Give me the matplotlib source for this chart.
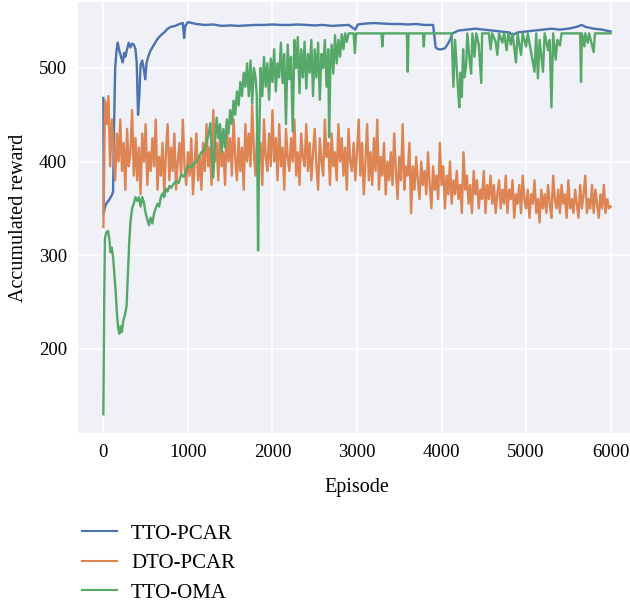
import matplotlib
matplotlib.use("Agg")
import matplotlib.pyplot as plt
import numpy as np

# Style: seaborn-like darkgrid, serif text
plt.rcParams["font.family"] = ["Liberation Serif", "DejaVu Serif"]
plt.rcParams["axes.facecolor"] = "#F0F0F7"
plt.rcParams["axes.edgecolor"] = "white"
plt.rcParams["grid.color"] = "white"

# TTO-PCAR (blue)
blue_ep = [0, 5, 20, 40, 60, 80, 100, 115, 125, 140, 155, 170, 185, 200, 215, 230,
           245, 260, 280, 300, 320, 340, 360, 380, 395, 410, 425, 440, 460, 480, 495,
           510, 530, 560, 600, 640, 680, 720, 760, 800, 850, 900, 940, 955, 970, 1000,
           1050, 1100, 1200, 1300, 1400, 1500, 1600, 1700, 1800, 1900, 2000, 2100,
           2200, 2300, 2400, 2500, 2600, 2700, 2800, 2900, 2980, 3010, 3100, 3200,
           3300, 3400, 3500, 3600, 3700, 3800, 3900, 3915, 3930, 3960, 4000, 4040,
           4070, 4100, 4130, 4200, 4300, 4400, 4500, 4600, 4700, 4800, 4840, 4900,
           5000, 5100, 5200, 5300, 5400, 5500, 5600, 5660, 5700, 5800, 5900, 6000]
blue_val = [468, 345, 352, 356, 358, 361, 364, 368, 430, 500, 518, 527, 520, 515, 510, 506,
            516, 512, 520, 527, 522, 526, 525, 520, 505, 450, 470, 503, 508, 498, 488,
            505, 512, 519, 525, 531, 535, 538, 542, 544, 545, 547, 548, 532, 545, 549,
            548, 547, 546, 546.5, 545, 545.5, 545, 545.5, 546, 546, 546.5, 546,
            546, 546.5, 546, 545.5, 546, 545, 545.5, 546, 541, 546.5, 547.5, 548,
            547.5, 547, 547, 546.5, 547, 546, 546, 535, 522, 520, 520, 521,
            525, 530, 537, 540, 541, 542, 541, 540, 539, 538, 535, 538,
            539, 540, 541, 542, 541, 542, 544, 546, 544, 542, 541, 539]

# DTO-PCAR (orange), one value every 20 episodes
orange_ep = np.arange(0, 6001, 20)
orange_val = [
    330, 465, 440, 470, 395, 445, 415, 380, 430, 400,
    445, 390, 420, 370, 435, 395, 410, 455, 385, 425,
    380, 415, 365, 430, 400, 440, 375, 410, 390, 425,
    395, 445, 370, 405, 385, 420, 365, 410, 440, 380,
    415, 390, 430, 370, 400, 420, 385, 445, 395, 375,
    410, 385, 425, 365, 400, 430, 380, 405, 370, 420,
    390, 440, 395, 415, 375, 455, 400, 420, 380, 435,
    395, 410, 375, 440, 400, 425, 385, 445, 405, 380,
    425, 390, 415, 370, 440, 400, 430, 395, 460, 410,
    385, 435, 400, 420, 375, 445, 405, 390, 430, 395,
    455, 400, 425, 380, 440, 395, 415, 370, 435, 405,
    390, 425, 400, 445, 385, 410, 375, 430, 405, 395,
    440, 390, 420, 380, 410, 435, 395, 370, 425, 400,
    385, 445, 405, 420, 375, 430, 395, 410, 380, 440,
    400, 425, 385, 415, 370, 435, 400, 390, 420, 380,
    410, 445, 385, 420, 365, 400, 440, 380, 410, 375,
    425, 390, 445, 370, 405, 385, 420, 365, 400, 380,
    410, 375, 430, 390, 360, 405, 380, 440, 370, 395,
    385, 420, 345, 395, 370, 405, 380, 360, 400, 375,
    390, 365, 410, 375, 350, 395, 370, 385, 360, 420,
    375, 395, 350, 385, 365, 400, 355, 380, 365, 390,
    360, 375, 345, 410, 370, 385, 355, 375, 345, 390,
    365, 380, 350, 370, 360, 390, 345, 375, 360, 385,
    355, 375, 345, 365, 380, 350, 370, 355, 385, 345,
    370, 360, 380, 340, 365, 355, 375, 345, 385, 360,
    350, 370, 340, 365, 355, 380, 345, 360, 335, 370,
    350, 365, 345, 375, 355, 340, 385, 360, 350, 370,
    345, 375, 355, 365, 340, 380, 350, 360, 345, 370,
    355, 340, 375, 350, 365, 385, 345, 360, 350, 375,
    345, 370, 355, 340, 365, 350, 375, 345, 360, 350,
    352]

# TTO-OMA (green)
green_ep = [0, 10, 18, 35, 55, 70, 85, 100, 115, 130, 145, 160, 175, 190, 205, 220,
            235, 255, 275, 290, 305, 320, 340, 360, 380, 400, 420, 440, 460, 480,
            500, 520, 540, 560, 580, 600, 620, 640, 660, 680, 700, 720, 740, 760,
            780, 800, 830, 860, 890, 920, 950, 980, 1010, 1040, 1070, 1100, 1130,
            1160, 1190, 1220, 1250, 1265, 1280, 1300, 1320, 1340, 1360, 1380, 1400,
            1420, 1440, 1460, 1480, 1500, 1520, 1540, 1560, 1580, 1600, 1620, 1640,
            1660, 1680, 1700, 1720, 1740, 1760, 1780, 1800, 1815, 1830, 1845, 1860,
            1880, 1900, 1920, 1940, 1960, 1980, 2000, 2020, 2040, 2060, 2080, 2100,
            2120, 2140, 2160, 2180, 2200, 2220, 2240, 2260, 2280, 2300, 2320, 2340,
            2360, 2380, 2400, 2420, 2440, 2460, 2480, 2500, 2520, 2540, 2560, 2580,
            2600, 2620, 2640, 2660, 2670, 2685, 2700, 2720, 2740, 2760, 2780, 2800,
            2820, 2840, 2860, 2880, 2900, 2960, 2975, 2990, 3290, 3300, 3310, 3590,
            3600, 3610, 3780, 3790, 3800, 4120, 4140, 4160, 4180, 4200, 4210, 4225,
            4240, 4255, 4270, 4290, 4305, 4330, 4350, 4365, 4390, 4410, 4440, 4470,
            4480, 4560, 4580, 4600, 4640, 4660, 4680, 4720, 4740, 4770, 4790, 4820,
            4840, 4880, 4900, 4940, 4960, 5000, 5020, 5100, 5120, 5140, 5160, 5200,
            5220, 5260, 5280, 5300, 5320, 5350, 5370, 5400, 5420, 5640, 5650, 5660,
            5690, 5700, 5730, 5745, 5800, 5815, 6000]
green_val = [130, 250, 318, 324, 326, 318, 303, 308, 298, 280, 262, 238, 222, 216, 224, 218,
             230, 236, 246, 280, 312, 335, 350, 355, 362, 358, 362, 352, 362, 356,
             345, 338, 332, 340, 334, 345, 350, 355, 352, 362, 366, 362, 371, 368,
             374, 372, 376, 379, 377, 386, 384, 390, 396, 394, 398, 400, 405,
             410, 412, 420, 432, 441, 410, 383, 420, 447, 425, 440, 410,
             435, 415, 445, 430, 455, 440, 465, 450, 475, 460, 485, 470,
             495, 480, 505, 470, 508, 462, 500, 490, 470, 305, 430, 500,
             470, 512, 480, 505, 466, 510, 485, 520, 475, 505, 490, 527,
             484, 515, 440, 525, 488, 512, 432, 530, 500, 533, 473, 520,
             490, 528, 478, 515, 495, 530, 470, 520, 490, 527, 466, 515,
             500, 530, 480, 520, 426, 500, 525, 494, 535, 505, 530, 512,
             536, 520, 537, 528, 537, 537, 516, 537, 537, 523, 537, 537,
             496, 537, 537, 523, 537, 537, 480, 530, 500, 470, 458, 495,
             469, 520, 490, 501, 537, 510, 494, 537, 512, 537, 525, 484,
             537, 537, 520, 537, 528, 514, 537, 527, 537, 519, 537, 525,
             537, 506, 537, 514, 537, 523, 537, 496, 537, 489, 530, 496,
             537, 519, 530, 458, 537, 509, 530, 524, 537, 537, 485, 537,
             523, 537, 527, 537, 517, 537, 537]

labels = ["TTO-PCAR", "DTO-PCAR", "TTO-OMA"]
colors = ["#4C72B0", "#DD8452", "#55A868"]

fig = plt.figure(figsize=(6.3, 6.05), dpi=100)
ax = fig.add_axes([0.1238, 0.2843, 0.8857, 0.7116])

ax.plot(blue_ep, blue_val, color=colors[0], lw=1.7, label=labels[0])
ax.plot(orange_ep, orange_val, color=colors[1], lw=1.7, label=labels[1])
ax.plot(green_ep, green_val, color=colors[2], lw=1.7, label=labels[2])

ax.set_xlim(-300, 6300)
ax.set_ylim(110, 570)
ax.set_xticks([0, 1000, 2000, 3000, 4000, 5000, 6000])
ax.set_yticks([200, 300, 400, 500])
ax.grid(True, color="white", lw=1.2)
ax.set_axisbelow(True)
for s in ax.spines.values():
    s.set_visible(False)
ax.tick_params(length=0, labelsize=13.5, pad=8)
ax.set_xlabel("Episode", fontsize=14.5, labelpad=12)
ax.set_ylabel("Accumulated reward", fontsize=14.5, labelpad=8)

leg = fig.legend(loc="upper left", bbox_to_anchor=(82 / 630, 1 - 524 / 605),
                 frameon=False, fontsize=15, borderpad=0, borderaxespad=0,
                 handlelength=1.7, handletextpad=0.65, labelspacing=0.48)
for h in leg.get_lines():
    h.set_linewidth(1.5)

fig.savefig("out.png", dpi=100)
